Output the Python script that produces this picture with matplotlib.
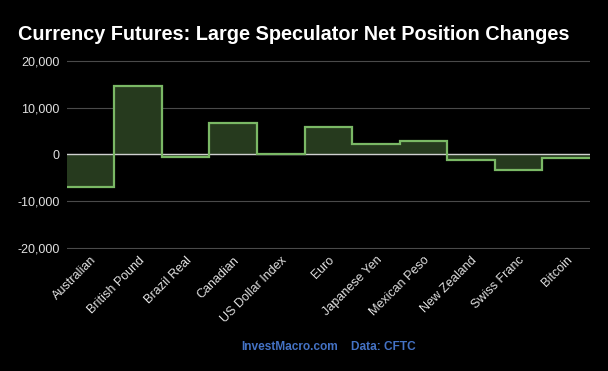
import numpy as np
import matplotlib
matplotlib.use('Agg')
import matplotlib.pyplot as plt

categories = ["Australian", "British Pound", "Brazil Real", "Canadian", "US Dollar Index",
              "Euro", "Japanese Yen", "Mexican Peso", "New Zealand", "Swiss Franc", "Bitcoin"]
net_change = [-7000, 14700, -500, 6800, 150, 5900, 2200, 2900, -1300, -3350, -700]
y_ticks = [-20000, -10000, 0, 10000, 20000]

plt.rcParams['font.family'] = ['Liberation Sans', 'DejaVu Sans']

fig = plt.figure(figsize=(6.08, 3.71), dpi=100, facecolor='black')
ax = fig.add_axes([0.110, 0.330, 0.860, 0.508], facecolor='black')

edges = np.arange(len(categories) + 1) - 0.5
# filled area between steps and zero
ax.stairs(net_change, edges, baseline=0, fill=True, color='#263a1e', zorder=2)
# outline of the steps
ax.stairs(net_change, edges, baseline=None, color='#7ab865', linewidth=1.6, zorder=4)
ax.axhline(0, color='#d0d0d0', linewidth=1.0, zorder=3)

ax.set_xlim(edges[0], edges[-1])
ax.set_ylim(-20200, 20200)
ax.set_yticks(y_ticks)
ax.set_yticklabels([f"{v:,}" for v in y_ticks])
ax.set_xticks(np.arange(len(categories)))
ax.set_xticklabels(categories, rotation=45, ha='right', rotation_mode='anchor')

ax.grid(axis='y', color='#4a4a4a', linewidth=0.8, zorder=0)
ax.tick_params(axis='both', length=0, colors='#e0e0e0', labelsize=9)
ax.tick_params(axis='y', pad=5)
ax.tick_params(axis='x', pad=4)
for s in ax.spines.values():
    s.set_visible(False)

fig.text(0.03, 0.908, "Currency Futures: Large Speculator Net Position Changes",
         color='white', fontsize=14.3, fontweight='bold', ha='left', va='center')

fig.text(289.5 / 608, 0.066, "InvestMacro.com", color='#4472c4',
         fontsize=8.6, fontweight='bold', ha='center', va='center')
fig.text(383 / 608, 0.066, "Data: CFTC", color='#4472c4',
         fontsize=8.6, fontweight='bold', ha='center', va='center')

fig.savefig('out.png', dpi=100, facecolor='black')
